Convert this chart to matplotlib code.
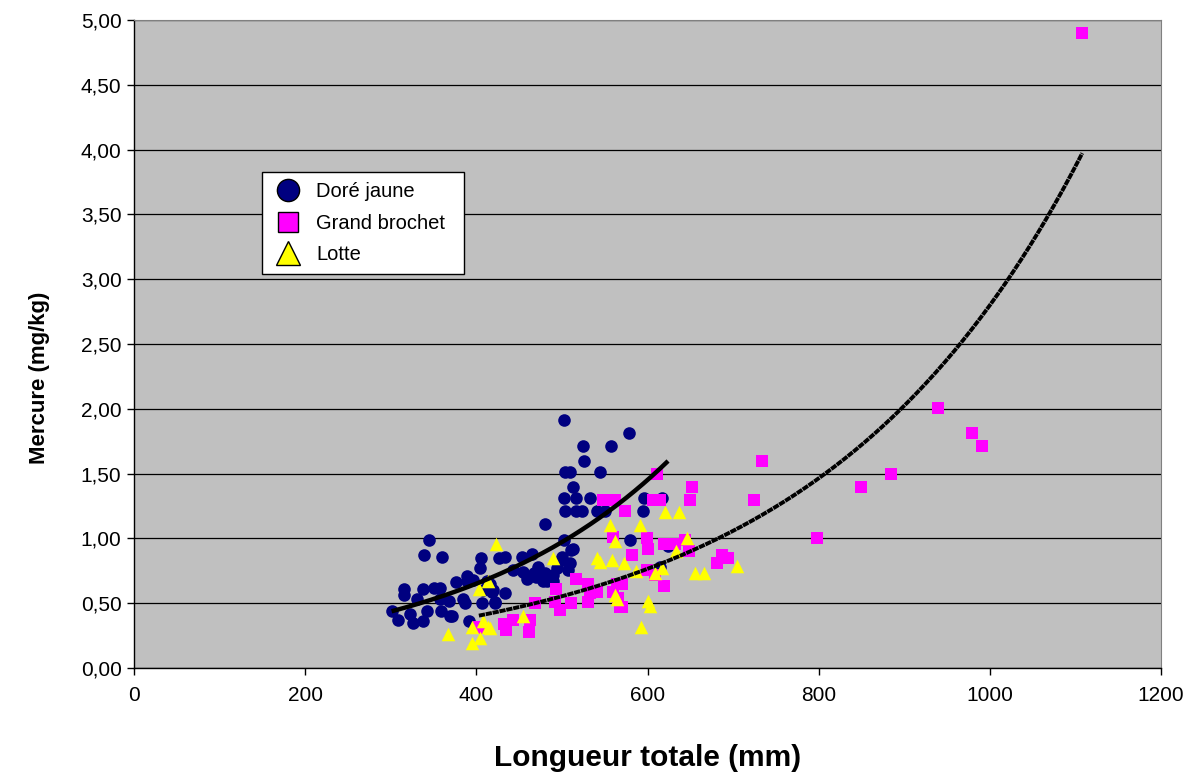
import numpy as np
import matplotlib
matplotlib.use("Agg")
import matplotlib.pyplot as plt
from matplotlib.lines import Line2D
from matplotlib.ticker import FuncFormatter

plt.rcParams["font.family"] = ["Liberation Sans", "DejaVu Sans"]

# Doré jaune: longueur (mm), mercure (mg/kg)
dore_x = [345, 339, 360, 405, 426, 433, 404, 316, 316, 338, 350, 357, 376, 389, 389,
          396, 408, 416, 420, 433, 331, 358, 368, 384, 387, 407, 422, 301, 308, 322,
          326, 338, 342, 359, 369, 372, 391,
          503, 578, 525, 557, 526, 504, 509, 544, 513, 503, 517, 533, 596, 617,
          504, 517, 523, 541, 550, 595, 480, 503, 513, 579, 624, 615,
          453, 465, 443, 459, 472, 480, 470, 490, 500, 509, 494, 507, 511, 500,
          412, 482, 455, 467, 478, 490, 418, 422]
dore_y = [0.99, 0.87, 0.86, 0.85, 0.85, 0.86, 0.77, 0.61, 0.56, 0.61, 0.62, 0.62, 0.66, 0.71, 0.67,
          0.68, 0.60, 0.65, 0.60, 0.58, 0.53, 0.53, 0.52, 0.53, 0.50, 0.50, 0.50, 0.44, 0.37, 0.42,
          0.35, 0.36, 0.44, 0.44, 0.40, 0.40, 0.36,
          1.91, 1.81, 1.71, 1.71, 1.60, 1.51, 1.51, 1.51, 1.40, 1.31, 1.31, 1.31, 1.31, 1.31,
          1.21, 1.21, 1.21, 1.21, 1.21, 1.21, 1.11, 0.99, 0.92, 0.99, 0.94, 0.78,
          0.86, 0.88, 0.76, 0.69, 0.78, 0.73, 0.70, 0.72, 0.86, 0.81, 0.77, 0.76, 0.91, 0.83,
          0.67, 0.67, 0.74, 0.73, 0.67, 0.67, 0.59, 0.51]

# Grand brochet
brochet_x = [1108, 940, 979, 991, 885, 849, 798, 734, 724, 652, 650, 611,
             548, 562, 607, 615, 574, 560, 599, 601, 582, 619, 632, 644, 649,
             681, 687, 694, 619, 599, 570, 560, 570,
             517, 531, 541, 533, 564, 609, 493, 469, 492, 498, 511, 531, 565, 568,
             432, 435, 443, 463, 461, 403, 404]
brochet_y = [4.90, 2.01, 1.81, 1.71, 1.50, 1.40, 1.00, 1.60, 1.30, 1.40, 1.30, 1.50,
             1.30, 1.30, 1.30, 1.30, 1.21, 1.01, 1.00, 0.92, 0.87, 0.96, 0.96, 0.99, 0.90,
             0.81, 0.87, 0.85, 0.63, 0.76, 0.65, 0.59, 0.47,
             0.69, 0.65, 0.59, 0.58, 0.65, 0.72, 0.61, 0.50, 0.51, 0.45, 0.50, 0.51, 0.54, 0.47,
             0.34, 0.29, 0.37, 0.37, 0.28, 0.32, 0.31]

# Lotte
lotte_x = [620, 637, 556, 591, 562, 646, 633, 545, 559, 572, 587, 609, 617,
           656, 666, 705, 562, 564, 601, 603, 592, 423, 490, 541, 454,
           403, 414, 367, 395, 408, 414, 404, 395, 416]
lotte_y = [1.20, 1.20, 1.10, 1.10, 0.98, 1.00, 0.90, 0.82, 0.83, 0.81, 0.75, 0.73, 0.77,
           0.73, 0.73, 0.79, 0.56, 0.53, 0.52, 0.48, 0.32, 0.96, 0.85, 0.85, 0.40,
           0.61, 0.67, 0.26, 0.32, 0.36, 0.32, 0.23, 0.19, 0.31]

# courbes de tendance exponentielles y = a * exp(b * x)
tend_dore = (0.1309, 0.004009)
tend_brochet = (0.1094, 0.003242)

x_ticks = [0, 200, 400, 600, 800, 1000, 1200]
y_ticks = [0, 0.5, 1, 1.5, 2, 2.5, 3, 3.5, 4, 4.5, 5]


fig = plt.figure(figsize=(11.99, 7.76), dpi=100)
ax = fig.add_axes([134 / 1199, 108 / 776, 1027 / 1199, 648 / 776])
ax.set_facecolor("#c0c0c0")

ax.scatter(dore_x, dore_y, s=82, marker="o", color="#000080",
           linewidths=0, zorder=3)
ax.scatter(brochet_x, brochet_y, s=85, marker="s", color="#ff00ff",
           linewidths=0, zorder=4)
ax.scatter(lotte_x, lotte_y, s=95, marker="^", color="#ffff00",
           linewidths=0, zorder=5)

# doré: trait plein épais, brochet: pointillé serré
xx = np.linspace(min(dore_x), max(dore_x), 300)
ax.plot(xx, tend_dore[0] * np.exp(tend_dore[1] * xx), color="black",
        lw=3.2, zorder=6, solid_capstyle="butt")
xx = np.linspace(min(brochet_x), max(brochet_x), 600)
ax.plot(xx, tend_brochet[0] * np.exp(tend_brochet[1] * xx), color="black",
        lw=2.8, zorder=6, ls=(0, (1.6, 0.2)))

ax.set_xlim(0, 1200)
ax.set_ylim(0, 5)
ax.set_xticks(x_ticks)
ax.set_yticks(y_ticks)
ax.yaxis.set_major_formatter(
    FuncFormatter(lambda v, p: f"{v:.2f}".replace(".", ","))
)
ax.tick_params(axis="both", labelsize=15, direction="out",
               length=5, width=1, color="black")
ax.tick_params(axis="x", pad=8)
ax.tick_params(axis="y", pad=4)

ax.grid(axis="y", color="black", lw=0.9)
ax.set_axisbelow(True)

for side in ["top", "right"]:
    ax.spines[side].set_color("#808080")
for side in ["left", "bottom"]:
    ax.spines[side].set_color("black")
    ax.spines[side].set_linewidth(1)

ax.set_xlabel("Longueur totale (mm)", fontsize=21.5, fontweight="bold",
              labelpad=28)
ax.set_ylabel("Mercure (mg/kg)", fontsize=16, fontweight="bold")
ax.yaxis.set_label_coords(-0.0815, 0.4475)

poignees = [
    Line2D([], [], ls="none", marker="o", ms=16, mfc="#000080", mec="black",
           mew=1, label="Doré jaune"),
    Line2D([], [], ls="none", marker="s", ms=14, mfc="#ff00ff", mec="black",
           mew=1, label="Grand brochet"),
    Line2D([], [], ls="none", marker="^", ms=17, mfc="#ffff00", mec="black",
           mew=1, label="Lotte"),
]
leg = ax.legend(handles=poignees, loc="upper left", mode="expand",
                bbox_to_anchor=((262 - 134) / 1027, (668 - 273) / 648,
                                202 / 1027, 101 / 648),
                fontsize=14.5, frameon=True, fancybox=False, edgecolor="black",
                framealpha=1, borderpad=0.5, labelspacing=0.62,
                handletextpad=0.6, handlelength=1.6, borderaxespad=0)
leg.get_frame().set_linewidth(1)

fig.savefig("out.png", dpi=100)
